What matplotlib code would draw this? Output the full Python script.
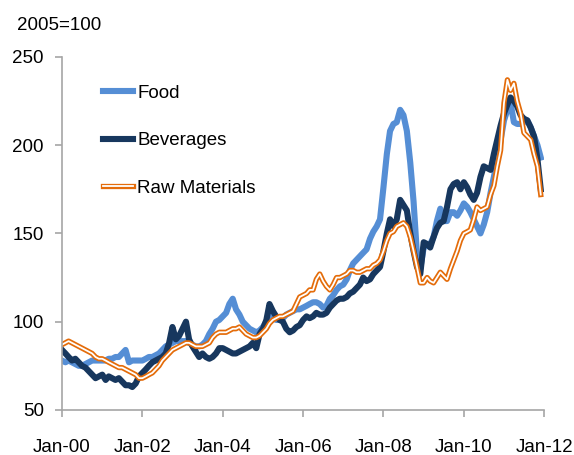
import numpy as np
import pandas as pd
import matplotlib
matplotlib.use("Agg")
import matplotlib.pyplot as plt
import matplotlib.dates as mdates
import matplotlib.patheffects as pe

plt.rcParams['font.family'] = ['Liberation Sans Narrow', 'Liberation Sans', 'DejaVu Sans']

# monthly index values, Jan 2000 - Dec 2011 (2005=100)
dates = pd.date_range('2000-01-01', '2011-12-01', freq='MS')

food = [
    78, 77, 78, 77, 76, 75, 75, 76, 77, 78, 78, 78,
    78, 78, 79, 79, 80, 80, 82, 84, 77, 78, 78, 78,
    78, 79, 80, 80, 81, 82, 84, 86, 87, 88, 89, 89,
    89, 89, 88, 87, 86, 86, 87, 89, 93, 96, 100, 101,
    103, 105, 110, 113, 107, 104, 100, 98, 96, 95, 94, 95,
    97, 100, 103, 102, 101, 101, 102, 104, 105, 106, 107, 107,
    108, 109, 110, 111, 111, 110, 108, 109, 113, 115, 118, 120,
    121, 124, 129, 133, 135, 137, 139, 141, 147, 151, 154, 158,
    176, 195, 208, 212, 213, 220, 217, 208, 190, 168, 138, 130,
    142, 143, 144, 148, 157, 164, 157, 157, 162, 162, 160, 163,
    167, 165, 162, 158, 154, 150, 155, 162, 173, 182, 192, 203,
    214, 220, 224, 213, 212, 212, 213, 214, 210, 205, 200, 193,
]

beverages = [
    84, 82, 80, 78, 79, 77, 75, 74, 72, 70, 68, 69,
    70, 67, 69, 68, 67, 68, 66, 64, 64, 63, 65, 69,
    71, 73, 75, 77, 78, 79, 80, 82, 88, 97, 90, 92,
    96, 100, 90, 86, 83, 80, 82, 80, 79, 80, 82, 85,
    85, 84, 83, 82, 82, 83, 84, 85, 86, 88, 85, 93,
    96, 101, 110, 106, 103, 101, 100, 96, 94, 95, 97, 98,
    101, 103, 102, 103, 105, 104, 104, 105, 108, 110, 112, 113,
    113, 114, 116, 117, 119, 121, 125, 123, 124, 127, 129, 131,
    140, 150, 158, 154, 158, 169, 166, 163, 150, 140, 131, 127,
    145, 144, 142, 148, 153, 156, 157, 165, 175, 178, 179, 175,
    179, 176, 172, 169, 173, 182, 188, 187, 186, 195, 203, 211,
    218, 223, 227, 225, 222, 217, 215, 214, 210, 205, 192, 175,
]

raw_materials = [
    87, 88, 89, 88, 87, 86, 85, 84, 83, 82, 80, 79,
    79, 78, 77, 76, 75, 74, 74, 73, 72, 71, 70, 68,
    68, 69, 70, 71, 73, 75, 78, 80, 82, 84, 85, 86,
    87, 88, 88, 87, 86, 86, 86, 87, 88, 91, 93, 94,
    94, 94, 95, 96, 96, 97, 95, 93, 92, 91, 91, 92,
    94, 96, 99, 101, 102, 103, 103, 104, 105, 106, 110, 114,
    115, 116, 118, 118, 124, 127, 123, 120, 118, 121, 125, 125,
    126, 127, 129, 129, 128, 128, 129, 130, 130, 132, 133, 135,
    140, 146, 150, 151, 154, 155, 156, 154, 148, 140, 131, 122,
    122, 125, 123, 122, 125, 128, 126, 124, 130, 135, 140, 146,
    150, 151, 152, 158, 165, 163, 164, 165, 172, 177, 188, 197,
    224, 237, 231, 235, 225, 218, 207, 205, 203, 195, 188, 172,
]

fig = plt.figure(figsize=(5.74, 4.55), dpi=100)
ax = fig.add_axes([0.108, 0.099, 0.84, 0.776])

ax.plot(dates, food, color='#558ED5', lw=4.4, label='Food', solid_joinstyle='round')
ax.plot(dates, beverages, color='#17375E', lw=4.4, label='Beverages', solid_joinstyle='round')
ax.plot(dates, raw_materials, color='white', lw=1.3, label='Raw Materials',
        solid_joinstyle='round',
        path_effects=[pe.Stroke(linewidth=3.8, foreground='#E46C0A'), pe.Normal()])

ax.set_ylim(50, 250)
ax.set_yticks([50, 100, 150, 200, 250])
ax.set_xlim(pd.Timestamp('2000-01-01'), pd.Timestamp('2012-01-01'))
ax.set_xticks(pd.date_range('2000-01-01', '2012-01-01', freq='24MS'))
ax.xaxis.set_major_formatter(mdates.DateFormatter('Jan-%y'))

for s in ['top', 'right']:
    ax.spines[s].set_visible(False)
for s in ['left', 'bottom']:
    ax.spines[s].set_color('#A6A6A6')
    ax.spines[s].set_linewidth(1.2)
ax.tick_params(axis='both', colors='#A6A6A6', length=5, width=1.2, labelsize=13.5,
               labelcolor='black')
ax.tick_params(axis='x', pad=16)
ax.tick_params(axis='y', pad=8)

fig.text(0.03, 0.945, '2005=100', fontsize=13.5, va='center')

ax.legend(loc='upper left', bbox_to_anchor=(0.069, 0.943), borderaxespad=0,
          frameon=False, fontsize=13.5, handlelength=1.6, handletextpad=0.25,
          labelspacing=1.62)

fig.savefig('out.png', dpi=100)
